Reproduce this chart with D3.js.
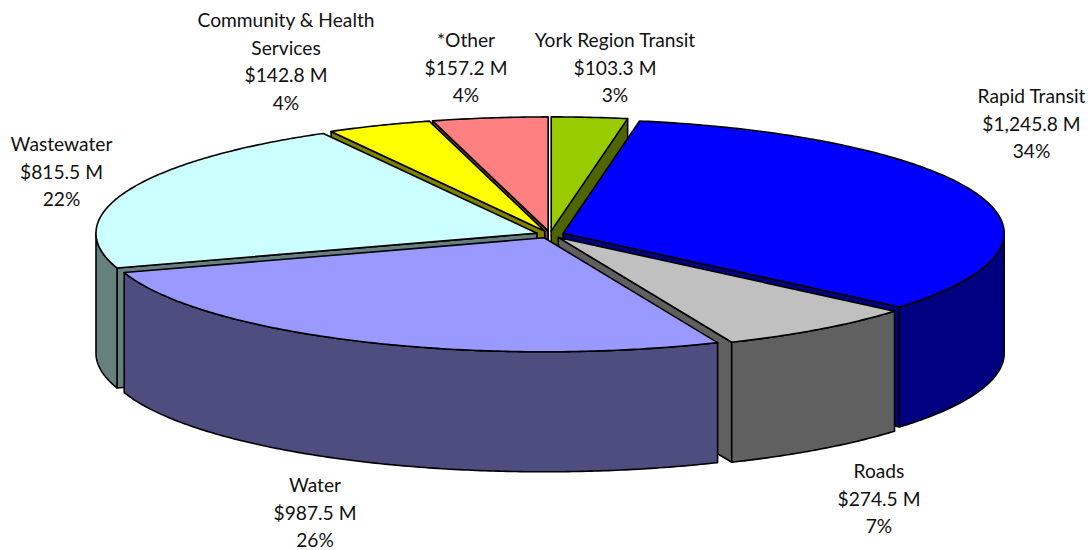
<!DOCTYPE html>
<html><head><meta charset="utf-8">
<script src="https://cdn.jsdelivr.net/npm/d3@7"></script>
<style>html,body{margin:0;padding:0;background:#fff}svg{display:block}</style>
</head><body><svg id="c" width="1092" height="550"></svg>
<script>
const categories = ["York Region Transit","Rapid Transit","Roads","Water","Wastewater","Community & Health Services","*Other"];
const amounts = [103.3,1245.8,274.5,987.5,815.5,142.8,157.2];
const percents = ["3%","34%","7%","26%","22%","4%","4%"];
const topColors = ["#99CC00","#0000FF","#C0C0C0","#9999FF","#CCFFFF","#FFFF00","#FF8080"];
const sideColors = ["#4D6600","#000080","#606060","#4D4D80","#668080","#808000","#804040"];
const nameLines = [["York Region Transit"],["Rapid Transit"],["Roads"],["Water"],["Wastewater"],["Community & Health","Services"],["*Other"]];
const labelX = [615,1031.5,879,315,61.5,286,466];
const labelY = [47,103,478,492,151,27,47];
const paintOrder = [6,5,0,4,1,2,3];

const cx=550, cy=234.5, rx=441, ry=114, depth=120, explode=14/441;
const x=d3.scaleLinear().domain([-1,1]).range([cx-rx,cx+rx]);
const y=d3.scaleLinear().domain([-1,1]).range([cy-ry,cy+ry]);
const svg=d3.select("#c");
const arcs=d3.pie().sort(null).startAngle(0).endAngle(2*Math.PI)(amounts);
const line=d3.line().x(d=>d[0]).y(d=>d[1]);
const fmt=v=>d3.format("$,.1f")(v)+" M";

function pt(a,r,mid,z){
  const ox=explode*Math.sin(mid), oy=-explode*Math.cos(mid);
  return [x(ox+r*Math.sin(a)), y(oy-r*Math.cos(a))+z];
}
function rim(a0,a1,mid,z){
  const n=Math.max(2,Math.ceil((a1-a0)/0.01));
  return d3.range(n+1).map(i=>pt(a0+(a1-a0)*i/n,1,mid,z));
}
function face(fill,pts){
  svg.append("path").attr("d",line(pts)+"Z").attr("fill",fill)
    .attr("stroke","#000").attr("stroke-width",1.6).attr("stroke-linejoin","round");
}
paintOrder.forEach(i=>{
  const s=arcs[i], a0=s.startAngle, a1=s.endAngle, mid=(a0+a1)/2;
  const wall=a=>[pt(a,0,mid,0),pt(a,1,mid,0),pt(a,1,mid,depth),pt(a,0,mid,depth)];
  if(Math.sin(a0)<0) face(sideColors[i],wall(a0));
  if(Math.sin(a1)>0) face(sideColors[i],wall(a1));
  const v0=Math.max(a0,Math.PI/2), v1=Math.min(a1,3*Math.PI/2);
  if(v1>v0) face(sideColors[i],rim(v0,v1,mid,0).concat(rim(v0,v1,mid,depth).reverse()));
  face(topColors[i],[pt(a0,0,mid,0)].concat(rim(a0,a1,mid,0)));
});
categories.forEach((c,i)=>{
  const lines=nameLines[i].concat([fmt(amounts[i]),percents[i]]);
  const t=svg.append("text").attr("text-anchor","middle").attr("font-family","Lato").attr("font-size",19.2).attr("fill","#111");
  lines.forEach((l,j)=>t.append("tspan").attr("x",labelX[i]).attr("y",labelY[i]+j*27.7).text(l));
});
</script></body></html>
